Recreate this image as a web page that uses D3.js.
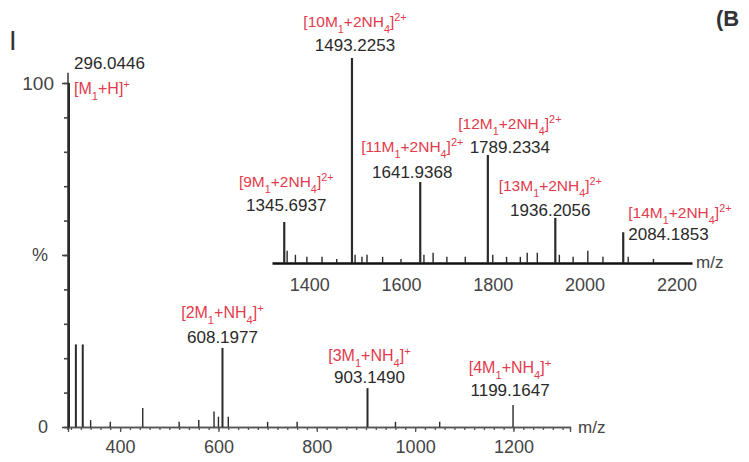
<!DOCTYPE html>
<html>
<head>
<meta charset="utf-8">
<script src="https://cdn.jsdelivr.net/npm/d3@7"></script>
<style>
  body { margin: 0; background: #fff; }
  text { font-family: "Liberation Sans", Arial, sans-serif; }
</style>
</head>
<body>
<div id="chart"></div>
<script>
// main spectrum: m/z and relative intensity (%)
const mainMz  = [296.0446, 310, 324, 340, 380, 446, 520, 560, 591, 600, 608.1977, 620, 700, 760, 903.1490, 960, 1050, 1199.1647];
const mainInt = [100, 24, 24, 2, 1.5, 5.5, 1.5, 2, 4.5, 3, 23, 3, 1.5, 1.5, 11.3, 1.5, 1.5, 6.4];
const mainTicks = [400, 600, 800, 1000, 1200];
const mainLabelMz = [296.0446, 608.1977, 903.1490, 1199.1647];
const mainLabelIon = ['[M_1+H]^+', '[2M_1+NH_4]^+', '[3M_1+NH_4]^+', '[4M_1+NH_4]^+'];

// inset (zoomed high-mass region)
const insetMz  = [1345.6937, 1352, 1370, 1395, 1428, 1460, 1493.2253, 1500, 1515, 1526, 1560, 1600, 1641.9368, 1650, 1670, 1700, 1740,
                  1789.2334, 1800, 1830, 1860, 1875, 1897, 1936.2056, 1945, 1975, 2007, 2040, 2084.1853, 2095, 2150];
const insetInt = [20, 6, 4, 3, 3, 2, 100, 4, 3, 4, 3, 2, 39.5, 4, 5, 3, 3,
                  52.7, 4, 3, 3, 5, 5, 22, 4, 3, 6, 3, 15, 3, 2];
const insetTicks = [1400, 1600, 1800, 2000, 2200];
const insetLabelMz = [1345.6937, 1493.2253, 1641.9368, 1789.2334, 1936.2056, 2084.1853];
const insetLabelIon = ['[9M_1+2NH_4]^2+', '[10M_1+2NH_4]^2+', '[11M_1+2NH_4]^2+', '[12M_1+2NH_4]^2+', '[13M_1+2NH_4]^2+', '[14M_1+2NH_4]^2+'];

const width = 749, height = 462;
const red = '#e23b4c', ink = '#2a2a2a';

const svg = d3.select('#chart').append('svg')
  .attr('width', width)
  .attr('height', height);

// scales
const x = d3.scaleLinear().domain([294, 1315]).range([68, 570]);
const y = d3.scaleLinear().domain([0, 100]).range([427, 83]);
const xi = d3.scaleLinear().domain([1319, 2234]).range([272, 692]);
const yi = d3.scaleLinear().domain([0, 100]).range([263, 58]);

// label layout: offsets of number / ion from the peak top
const mainNudge = {
  296.0446: {dx: 5, anchor: 'start', num: -20, ion: 5},
  608.1977: {dx: 0, anchor: 'middle', num: -11, ion: -35},
  903.1490: {dx: 2, anchor: 'middle', num: -11, ion: -33},
  1199.1647: {dx: -3, anchor: 'middle', num: -15, ion: -38}
};
const insetNudge = {
  1345.6937: {dx: 2, anchor: 'middle', num: -17, ion: -40},
  1493.2253: {dx: 3, anchor: 'middle', num: -13, ion: -36},
  1641.9368: {dx: -8, anchor: 'middle', num: -10, ion: -35},
  1789.2334: {dx: 22, anchor: 'middle', num: -8, ion: -31},
  1936.2056: {dx: -5, anchor: 'middle', num: -8, ion: -32},
  2084.1853: {dx: 5, anchor: 'start', num: 2, ion: -20}
};

// formula text with _sub and ^sup parts
function ionText(sel, str) {
  const parts = str.split(/(_\w|\^[\d+]+)/).filter(s => s.length);
  parts.forEach(p => {
    if (p[0] === '_') {
      sel.append('tspan').attr('font-size', '70%').attr('baseline-shift', 'sub').text(p.slice(1));
    } else if (p[0] === '^') {
      sel.append('tspan').attr('font-size', '70%').attr('baseline-shift', 'super').text(p.slice(1));
    } else {
      sel.append('tspan').text(p);
    }
  });
}

// ---- main axes ----
const gx = svg.append('g').attr('transform', `translate(0,${y(0)})`)
  .call(d3.axisBottom(x).tickValues(mainTicks).tickSize(5).tickPadding(8).tickFormat(d3.format('d')));
gx.append('g').call(d3.axisBottom(x).tickValues(d3.range(300, 1315, 20)).tickSize(3).tickFormat(''));
gx.selectAll('path, line').attr('stroke', '#555').attr('stroke-width', 1.3);
gx.selectAll('text').attr('font-size', 18).attr('fill', '#444');

const gy = svg.append('g').attr('transform', `translate(${x.range()[0]},0)`)
  .call(d3.axisLeft(y).tickValues([0, 50, 100]).tickSize(6).tickPadding(8)
    .tickFormat(d => d === 50 ? '%' : d));
gy.append('g').call(d3.axisLeft(y).tickValues(d3.range(10, 100, 10)).tickSize(4).tickFormat(''));
gy.select('.domain').attr('d', `M0,${y(0) + 3}V${y(103)}`);
gy.selectAll('path, line').attr('stroke', '#444').attr('stroke-width', 1.6);
gy.selectAll('text').attr('font-size', d => d === 100 ? 19 : 18).attr('fill', '#444')
  .attr('x', d => d === 100 ? -14 : -20);

svg.append('text').attr('x', 578).attr('y', y(0) + 6)
  .attr('font-size', 17).attr('fill', '#444').text('m/z');

// ---- main peaks ----
svg.append('g').selectAll('line')
  .data(mainMz)
  .enter().append('line')
  .attr('x1', d => x(d)).attr('x2', d => x(d))
  .attr('y1', y(0))
  .attr('y2', (d, i) => y(mainInt[i]))
  .attr('stroke', ink)
  .attr('stroke-width', (d, i) => mainInt[i] > 10 ? 2 : 1.4);

const mainLab = svg.append('g').selectAll('g')
  .data(mainLabelMz)
  .enter().append('g')
  .attr('transform', d => `translate(${x(d) + mainNudge[d].dx},${y(mainInt[mainMz.indexOf(d)])})`);
mainLab.append('text')
  .attr('y', d => mainNudge[d].num)
  .attr('dy', '0.35em')
  .attr('text-anchor', d => mainNudge[d].anchor)
  .attr('font-size', 17).attr('fill', ink)
  .text(d => d.toFixed(4));
mainLab.append('text')
  .attr('y', d => mainNudge[d].ion)
  .attr('dy', '0.35em')
  .attr('text-anchor', d => mainNudge[d].anchor)
  .attr('font-size', 16).attr('fill', red)
  .each(function (d, i) { ionText(d3.select(this), mainLabelIon[i]); });

// ---- inset ----
const gi = svg.append('g').attr('transform', `translate(0,${yi(0)})`)
  .call(d3.axisBottom(xi).tickValues(insetTicks).tickSize(0).tickPadding(15).tickFormat(d3.format('d')));
gi.select('.domain').attr('stroke', '#111').attr('stroke-width', 2.6);
gi.selectAll('text').attr('font-size', 18).attr('fill', '#444');

svg.append('text').attr('x', 696).attr('y', yi(0) + 5)
  .attr('font-size', 17).attr('fill', '#444').text('m/z');

svg.append('g').selectAll('line')
  .data(insetMz)
  .enter().append('line')
  .attr('x1', d => xi(d)).attr('x2', d => xi(d))
  .attr('y1', yi(0))
  .attr('y2', (d, i) => yi(insetInt[i]))
  .attr('stroke', ink)
  .attr('stroke-width', (d, i) => insetInt[i] > 10 ? 2.2 : 1.4);

const insetLab = svg.append('g').selectAll('g')
  .data(insetLabelMz)
  .enter().append('g')
  .attr('transform', d => `translate(${xi(d) + insetNudge[d].dx},${yi(insetInt[insetMz.indexOf(d)])})`);
insetLab.append('text')
  .attr('y', d => insetNudge[d].num)
  .attr('dy', '0.35em')
  .attr('text-anchor', d => insetNudge[d].anchor)
  .attr('font-size', 17).attr('fill', ink)
  .text(d => d.toFixed(4));
insetLab.append('text')
  .attr('y', d => insetNudge[d].ion)
  .attr('dy', '0.35em')
  .attr('text-anchor', d => insetNudge[d].anchor)
  .attr('font-size', 15.5).attr('fill', red)
  .each(function (d, i) { ionText(d3.select(this), insetLabelIon[i]); });

// panel marks
svg.append('text').attr('x', 716).attr('y', 26)
  .attr('font-size', 22).attr('font-weight', 'bold').attr('fill', '#333').text('(B');
svg.append('text').attr('x', 10).attr('y', 46)
  .attr('font-size', 20).attr('font-weight', 'bold').attr('fill', '#333').text('|');
</script>
</body>
</html>
